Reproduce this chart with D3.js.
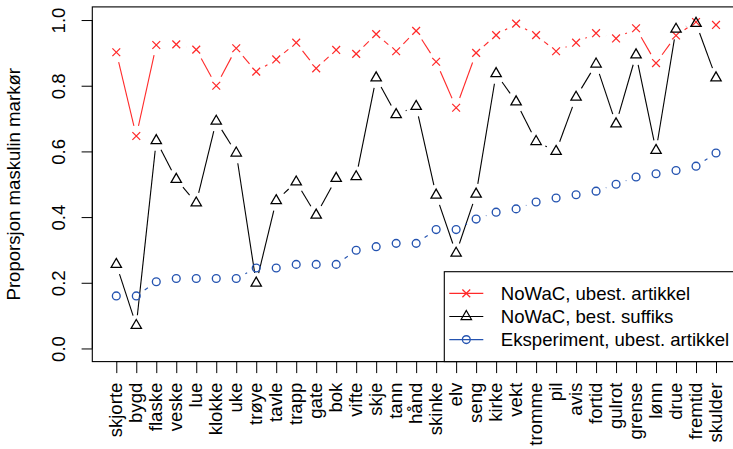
<!DOCTYPE html>
<html>
<head>
<meta charset="utf-8">
<script src="https://cdn.jsdelivr.net/npm/d3@7"></script>
<style>
  html, body { margin: 0; padding: 0; background: #fff; }
  svg { display: block; font-family: "Liberation Sans", Arial, Helvetica, sans-serif; }
</style>
</head>
<body>
<svg id="chart" width="733" height="449"></svg>
<script>
// Nouns, ordered by the experiment's proportion
const categories = ["skjorte","bygd","flaske","veske","lue","klokke","uke","trøye","tavle","trapp",
  "gate","bok","vifte","skje","tann","hånd","skinke","elv","seng","kirke","vekt","tromme","pil",
  "avis","fortid","gulrot","grense","lønn","drue","fremtid","skulder"];

// NoWaC, indefinite article
const nowacArtikkel = [0.902,0.647,0.924,0.926,0.910,0.800,0.914,0.843,0.880,0.931,
  0.853,0.909,0.897,0.957,0.905,0.967,0.873,0.733,0.900,0.954,0.989,0.954,0.905,
  0.931,0.960,0.944,0.975,0.869,0.953,0.994,0.985];

// NoWaC, definite suffix
const nowacSuffiks = [0.256,0.070,0.633,0.515,0.443,0.692,0.595,0.199,0.450,0.507,
  0.406,0.518,0.523,0.824,0.712,0.737,0.467,0.290,0.470,0.837,0.751,0.630,0.600,
  0.765,0.866,0.684,0.894,0.603,0.972,0.990,0.824];

// Experiment, indefinite article
const eksperiment = [0.160,0.160,0.203,0.213,0.213,0.213,0.213,0.245,0.245,0.256,
  0.256,0.256,0.299,0.310,0.320,0.320,0.362,0.362,0.394,0.415,0.425,0.446,0.458,
  0.468,0.479,0.500,0.522,0.532,0.542,0.555,0.595];

const yTicks = [0, 0.2, 0.4, 0.6, 0.8, 1.0];

const seriesNames = ["NoWaC, ubest. artikkel", "NoWaC, best. suffiks", "Eksperiment, ubest. artikkel"];
const seriesColors = ["#ff2a2a", "#000000", "#2453b0"];
const seriesShapes = ["cross", "triangle", "circle"];

const FONT = 18.6;
const plot = { left: 92.3, right: 740, top: 6.9, bottom: 361.6 };

const svg = d3.select("#chart");

const x = d3.scalePoint().domain(categories).range([plot.left, plot.right]).padding(1.2);
const y = d3.scaleLinear().domain([-0.04, 1.04]).range([plot.bottom, plot.top]);

// plotting symbols
const R = 3.9;
function drawSymbol(g, shape, cx, cy, color) {
  if (shape === "cross") {
    g.append("path")
      .attr("d", `M${cx - R},${cy - R}L${cx + R},${cy + R}M${cx - R},${cy + R}L${cx + R},${cy - R}`)
      .attr("stroke", color).attr("stroke-width", 1.25).attr("fill", "none");
  } else if (shape === "triangle") {
    const r = 6.0, hw = r * Math.sqrt(3) / 2;
    g.append("path")
      .attr("d", `M${cx},${cy - r}L${cx + hw},${cy + r / 2}L${cx - hw},${cy + r / 2}Z`)
      .attr("stroke", color).attr("stroke-width", 1.25).attr("fill", "none");
  } else {
    g.append("circle").attr("cx", cx).attr("cy", cy).attr("r", R)
      .attr("stroke", color).attr("stroke-width", 1.35).attr("fill", "none");
  }
}

// "both" style: segments stop short of each point
const GAP = 10.3;
function drawSeries(values, shape, color) {
  const g = svg.append("g");
  const pts = values.map((v, i) => [x(categories[i]), y(v)]);
  for (let i = 1; i < pts.length; i++) {
    const [x0, y0] = pts[i - 1], [x1, y1] = pts[i];
    const dx = x1 - x0, dy = y1 - y0, L = Math.hypot(dx, dy);
    if (L > 2 * GAP) {
      const f = GAP / L;
      g.append("line")
        .attr("x1", x0 + f * dx).attr("y1", y0 + f * dy)
        .attr("x2", x1 - f * dx).attr("y2", y1 - f * dy)
        .attr("stroke", color).attr("stroke-width", 1.1);
    }
  }
  pts.forEach(([px, py]) => drawSymbol(g, shape, px, py, color));
}

drawSeries(nowacArtikkel, seriesShapes[0], seriesColors[0]);
drawSeries(nowacSuffiks, seriesShapes[1], seriesColors[1]);
drawSeries(eksperiment, seriesShapes[2], seriesColors[2]);

// frame
svg.append("rect")
  .attr("x", plot.left).attr("y", plot.top)
  .attr("width", plot.right - plot.left).attr("height", plot.bottom - plot.top)
  .attr("fill", "none").attr("stroke", "#000").attr("stroke-width", 1.1);

// y axis
const yAxis = svg.append("g").attr("transform", `translate(${plot.left},0)`)
  .call(d3.axisLeft(y).tickValues(yTicks).tickSize(10.7).tickFormat(d3.format(".1f")));
yAxis.select(".domain").attr("d", `M0,${y(0)}V${y(1)}`).attr("stroke", "#000");
yAxis.selectAll(".tick line").attr("stroke", "#000");
yAxis.selectAll(".tick text")
  .attr("x", 0).attr("y", 0).attr("dy", null)
  .attr("transform", "translate(-27,0) rotate(-90)")
  .attr("text-anchor", "middle")
  .attr("font-size", FONT).attr("font-family", "Liberation Sans, Arial, sans-serif").attr("fill", "#000");

// x axis
const xAxis = svg.append("g").attr("transform", `translate(0,${plot.bottom})`)
  .call(d3.axisBottom(x).tickSize(11.5));
xAxis.select(".domain")
  .attr("d", `M${x(categories[0])},0H${x(categories[categories.length - 1])}`).attr("stroke", "#000");
xAxis.selectAll(".tick line").attr("stroke", "#000");
xAxis.selectAll(".tick text")
  .attr("x", 0).attr("y", 0).attr("dy", null)
  .attr("transform", "translate(5,21) rotate(-90)")
  .attr("text-anchor", "end")
  .attr("font-size", FONT).attr("font-family", "Liberation Sans, Arial, sans-serif").attr("fill", "#000");

// y title
svg.append("text")
  .attr("transform", `translate(19.5,${(plot.top + plot.bottom) / 2}) rotate(-90)`)
  .attr("text-anchor", "middle").attr("font-size", FONT).attr("fill", "#000")
  .text("Proporsjon maskulin markør");

// legend
const legend = svg.append("g");
legend.append("rect")
  .attr("x", 444.3).attr("y", 271.7).attr("width", plot.right - 444.3).attr("height", plot.bottom - 271.7)
  .attr("fill", "#fff").attr("stroke", "#000").attr("stroke-width", 1.1);
seriesNames.forEach((name, i) => {
  const base = 300 + i * 23.1;
  const my = base - 6.6;
  legend.append("line").attr("x1", 449.3).attr("x2", 483.3).attr("y1", my).attr("y2", my)
    .attr("stroke", seriesColors[i]).attr("stroke-width", 1.1);
  drawSymbol(legend, seriesShapes[i], 466.3, my, seriesColors[i]);
  legend.append("text").attr("x", 500.8).attr("y", base)
    .attr("font-size", FONT).attr("fill", "#000").text(name);
});
</script>
</body>
</html>
